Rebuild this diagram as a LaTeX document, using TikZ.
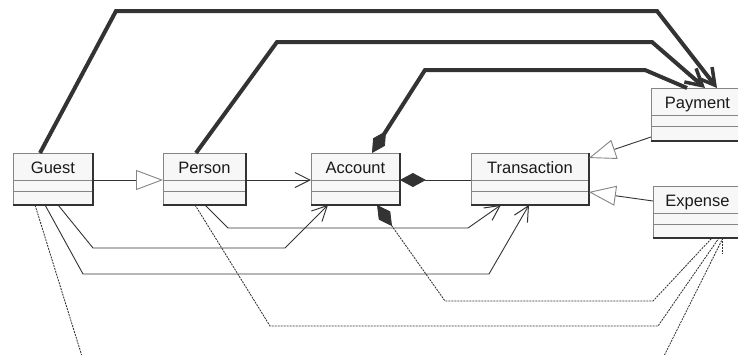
\documentclass[tikz,border=0pt]{standalone}
\usepackage{fontspec}
\setmainfont{Liberation Sans}
\usetikzlibrary{arrows.meta}
\definecolor{boxfill}{HTML}{F7F7F7}
\definecolor{boxedge}{HTML}{858585}
\definecolor{ink}{HTML}{333333}
\definecolor{textink}{HTML}{1A1A1A}

% one UML class box: name, x, y (top left), width, height, label
\newcommand\umlclass[6]{%
  \node[classbox, minimum width=#4pt, minimum height=#5pt, anchor=north west] (#1) at (#2,#3) {};
  \node[classname, anchor=base] (#1-name) at ([yshift=-20pt]#1.north) {#6};
  \draw[divider] ([yshift=-27pt]#1.north west) -- ([yshift=-27pt]#1.north east);
  \draw[divider] ([yshift=-38pt]#1.north west) -- ([yshift=-38pt]#1.north east);
  \draw[shadeedge] (#1.south west) -- (#1.south east) -- (#1.north east);
}

\begin{document}
\begin{tikzpicture}[x=1pt,y=-1pt,
  classbox/.style={draw=boxedge, line width=0.9pt, fill=boxfill, inner sep=0pt},
  classname/.style={font=\fontsize{16.5}{18}\selectfont, text=textink, inner sep=0pt},
  divider/.style={draw=boxedge, line width=0.9pt},
  shadeedge/.style={draw=ink, line width=1.6pt},
  assoc/.style={draw=ink, line width=0.9pt},
  navtip/.style={-{Straight Barb[length=15pt,width=15pt,line width=1pt]}},
  heavy/.style={draw=ink, line width=4pt, line join=miter},
  heavytip/.style={-{Straight Barb[length=16pt,width=18pt,line width=3.5pt]}},
  gentip/.style={-{Triangle[length=27pt,width=20pt,fill=white,color=boxedge,line width=0.9pt]}},
  genline/.style={draw=ink, line width=0.9pt},
  dep/.style={draw=ink, line width=0.85pt, dash pattern=on 2pt off 1pt},
  comp/.style={{Diamond[length=26pt,width=14pt,fill=ink,line width=0.8pt]}-},
]
\useasboundingbox (0,0) rectangle (738,354);
\clip (0,0) rectangle (738,354);
\fill[white] (0,0) rectangle (738,354);

% classes
\umlclass{guest}{13}{153}{79}{51}{Guest}
\umlclass{person}{163}{153}{82}{51}{Person}
\umlclass{account}{311}{153}{88}{51}{Account}
\umlclass{transaction}{471}{153}{117}{51}{Transaction}
\umlclass{payment}{651}{88}{92}{52}{Payment}
\umlclass{expense}{653}{186}{88}{51}{Expense}

% ends of the links that leave the drawing
\coordinate (guestout) at (85,366);
\coordinate (expenseout) at (659,366);
\coordinate (expensetail) at (722,253);

% generalisations
\draw[genline, gentip] ([yshift=-27pt]guest.north east) -- ([yshift=-27pt]person.north west);
\draw[genline, gentip] ([yshift=-49pt]payment.north west) -- ([yshift=-5pt]transaction.north east);
\draw[genline, gentip] ([yshift=-15pt]expense.north west) -- ([yshift=-39pt]transaction.north east);

% navigable associations
\draw[assoc, navtip] ([yshift=-27pt]person.north east) -- ([yshift=-27pt]account.north west);
\draw[assoc, navtip] ([xshift=45pt]guest.south west) -- (93,248) -- (285,248) -- ([xshift=17pt]account.south west);
\draw[assoc, navtip] ([xshift=32pt]guest.south west) -- (83,274) -- (489,274) -- ([xshift=58pt]transaction.south west);
\draw[assoc, navtip] ([xshift=42pt]person.south west) -- (228,228) -- (468,228) -- ([xshift=30pt]transaction.south west);

% composition
\draw[assoc, comp] ([yshift=-27pt]account.north east) -- ([yshift=-27pt]transaction.north west);

% heavy links to Payment
\draw[heavy, heavytip] ([xshift=27pt]guest.north west) -- (116,11) -- (657,11) -- ([xshift=66pt]payment.north west);
\draw[heavy, heavytip] ([xshift=33pt]person.north west) -- (277,42) -- (652,42) -- ([xshift=54pt]payment.north west);
\draw[heavy, comp] ([xshift=61pt]account.north west) -- (425,70) -- (645,70) -- ([xshift=36pt]payment.north west);

% dependencies
\draw[dep] ([xshift=22pt]guest.south west) -- (guestout);
\draw[dep] ([xshift=32pt]person.south west) -- (270,326) -- (658,326) -- ([xshift=66pt]expense.south west);
\draw[dep, comp] ([xshift=66pt]account.south west) -- (445,301) -- (653,301) -- ([xshift=59pt]expense.south west);
\draw[dep] ([xshift=70pt]expense.south west) -- (expenseout);
\draw[dep] ([xshift=69pt]expense.south west) -- (expensetail);
\end{tikzpicture}
\end{document}
